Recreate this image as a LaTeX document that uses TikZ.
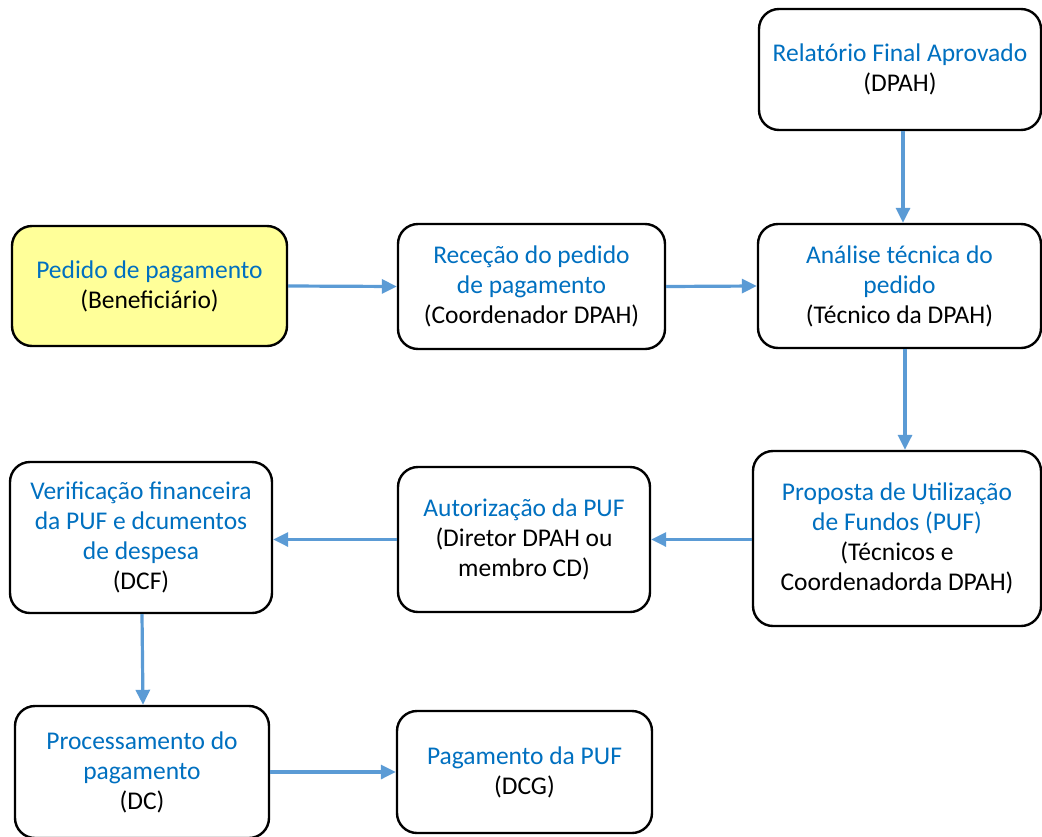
\documentclass[tikz,border=0pt]{standalone}
\usepackage{fontspec}
\setmainfont{Carlito}
\usetikzlibrary{arrows.meta}
\definecolor{txtblue}{RGB}{0,112,192}
\definecolor{arrblue}{RGB}{91,155,213}
\definecolor{boxyellow}{RGB}{255,255,153}
\newcommand{\bl}[1]{\textcolor{txtblue}{#1}}
\begin{document}
\begin{tikzpicture}[x=1pt,y=-1pt,
  box/.style={draw=black, line width=2.4pt, rounded corners=20pt, fill=white,
    align=center, inner sep=0pt, font=\fontsize{25.5}{30}\selectfont},
  flow/.style={draw=arrblue, line width=3.2pt, -{Triangle[length=15pt,width=14pt]}}]
\useasboundingbox (0,0) rectangle (1042,836);

% boxes
\node[box, minimum width=282pt, minimum height=121pt] (rel) at (900,69.5)
  {\bl{Relatório Final Aprovado}\\(DPAH)};
\node[box, minimum width=283pt, minimum height=124pt] (ana) at (899.5,286)
  {\bl{Análise técnica do}\\\bl{pedido}\\(Técnico da DPAH)};
\node[box, fill=boxyellow, minimum width=275pt, minimum height=120pt] (ped) at (149.5,286)
  {\bl{Pedido de pagamento}\\(Beneficiário)};
\node[box, minimum width=267pt, minimum height=125pt] (rec) at (531.5,286.5)
  {\bl{Receção do pedido}\\\bl{de pagamento}\\(Coordenador DPAH)};
\node[box, minimum width=288pt, minimum height=175pt] (pro) at (897,538.5)
  {\bl{Proposta de Utilização}\\\bl{de Fundos (PUF)}\\(Técnicos e\\Coordenadorda DPAH)};
\node[box, minimum width=252pt, minimum height=145pt] (aut) at (524,539.5)
  {\bl{Autorização da PUF}\\(Diretor DPAH ou\\membro CD)};
\node[box, minimum width=262pt, minimum height=151pt] (ver) at (141,537.5)
  {\bl{Verificação financeira}\\\bl{da PUF e dcumentos}\\\bl{de despesa}\\(DCF)};
\node[box, minimum width=254pt, minimum height=132pt] (proc) at (142,772)
  {\bl{Processamento do}\\\bl{pagamento}\\(DC)};
\node[box, minimum width=255pt, minimum height=122pt] (pag) at (524.5,772)
  {\bl{Pagamento da PUF}\\(DCG)};

% connectors
\draw[flow] ([xshift=3pt]rel.south) -- ([xshift=3.5pt]ana.north);
\draw[flow] (ped.east) -- (rec.west);
\draw[flow] (rec.east) -- (ana.west);
\draw[flow] ([xshift=5.5pt]ana.south) -- ([xshift=5.5pt]ana.south |- pro.north);
\draw[flow] (pro.west |- aut.east) -- (aut.east);
\draw[flow] (aut.west) -- (aut.west -| ver.east);
\draw[flow] ([xshift=1pt]ver.south) -- ([xshift=1pt]proc.north);
\draw[flow] (proc.east) -- (pag.west);
\end{tikzpicture}
\end{document}
